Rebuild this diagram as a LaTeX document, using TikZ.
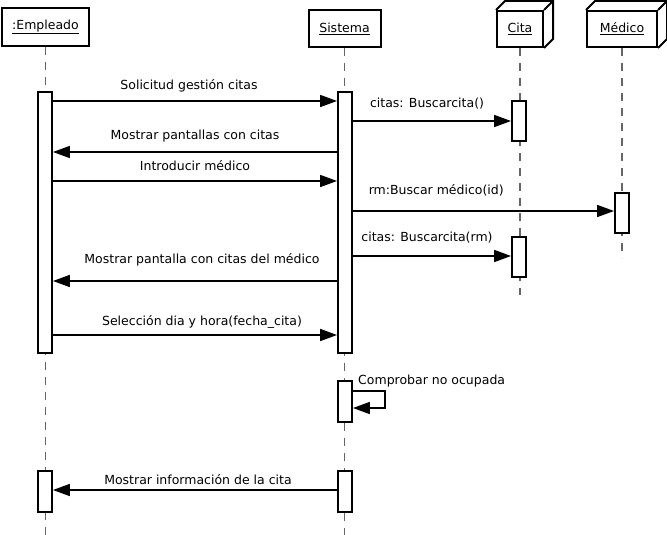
\documentclass[tikz,border=0pt]{standalone}
\usepackage{fontspec}
\setmainfont{DejaVu Sans}
\usetikzlibrary{arrows.meta}
\tikzset{
  head/.style={draw,line width=2pt,fill=white,inner sep=0pt},
  act/.style={draw,line width=1.9pt,fill=white,minimum width=14pt,inner sep=0pt,anchor=north},
  life/.style={black!60,line width=1.4pt,dash pattern=on 8pt off 7pt},
  msg/.style={line width=1.7pt,-{Triangle[length=17pt,width=12pt]}},
  lbl/.style={inner sep=0pt}
}
\newcommand{\cube}[1]{% back edges of a 3D head
  \draw[line width=2pt] (#1.north west) -- ++(9,-9) -| ([shift={(9,-9)}]#1.south east) -- (#1.south east);
  \draw[line width=2pt] (#1.north east) -- ++(9,-9);}
\begin{document}
\begin{tikzpicture}[x=1pt,y=-1pt,every node/.style={font=\fontsize{12.5}{14}\selectfont}]
\useasboundingbox[fill=white] (0,0) rectangle (667,535);
% heads
\node[head,minimum width=87pt,minimum height=38pt] (emp) at (45.5,27) {\underline{:Empleado}};
\node[head,minimum width=72pt,minimum height=37pt] (sis) at (344.5,28.5) {\underline{Sistema}};
\node[head,minimum width=46pt,minimum height=36pt] (cita) at (520,29) {\underline{Cita}};
\node[head,minimum width=70pt,minimum height=36pt] (med) at (622,29) {\underline{Médico}};
\cube{cita}
\cube{med}
% lifelines
\draw[life] (emp.south) -- (emp.south |- 0,535);
\draw[life] (sis.south) -- (sis.south |- 0,535);
\draw[life] (cita.south) -- (cita.south |- 0,295);
\draw[life] (med.south) -- (med.south |- 0,258);
% activations
\node[act,minimum height=261pt] (ea1) at (45,91) {};
\node[act,minimum height=41pt] (ea2) at (45,470) {};
\node[act,minimum height=261pt] (sa1) at (345,91) {};
\node[act,minimum height=41pt] (sa2) at (345,380) {};
\node[act,minimum height=41pt] (sa3) at (345,470) {};
\node[act,minimum height=40pt] (ca1) at (519,100) {};
\node[act,minimum height=40pt] (ca2) at (519,236) {};
\node[act,minimum height=40pt] (ma1) at (622,192) {};
% messages
\draw[msg] (ea1.east |- 0,101) -- node[lbl,xshift=-6pt,yshift=15pt] {Solicitud gestión citas} (sa1.west |- 0,101);
\draw[msg] (sa1.east |- 0,121) -- node[lbl,xshift=-5pt,yshift=17pt] {citas: Buscarcita()} (ca1.west |- 0,121);
\draw[msg] (sa1.west |- 0,152) -- node[lbl,yshift=16pt] {Mostrar pantallas con citas} (ea1.east |- 0,152);
\draw[msg] (ea1.east |- 0,181) -- node[lbl,yshift=15pt] {Introducir médico} (sa1.west |- 0,181);
\draw[msg] (sa1.east |- 0,211) -- node[lbl,pos=0,anchor=west,xshift=15pt,yshift=21pt] {rm:Buscar médico(id)} (ma1.west |- 0,211);
\draw[msg] (sa1.east |- 0,256) -- node[lbl,xshift=-5pt,yshift=18pt] {citas: Buscarcita(rm)} (ca2.west |- 0,256);
\draw[msg] (sa1.west |- 0,281) -- node[lbl,xshift=7pt,yshift=21pt] {Mostrar pantalla con citas del médico} (ea1.east |- 0,281);
\draw[msg] (ea1.east |- 0,335) -- node[lbl,xshift=7pt,yshift=13pt] {Selección dia y hora(fecha\_cita)} (sa1.west |- 0,335);
\draw[msg] (sa2.east |- 0,391) -- ++(32,0) -- ++(0,17) -- (sa2.east |- 0,408);
\node[lbl,anchor=west] (chk) at (358,381) {Comprobar no ocupada};
\draw[msg] (sa3.west |- 0,490) -- node[lbl,xshift=3pt,yshift=10pt] {Mostrar información de la cita} (ea2.east |- 0,490);
\end{tikzpicture}
\end{document}
